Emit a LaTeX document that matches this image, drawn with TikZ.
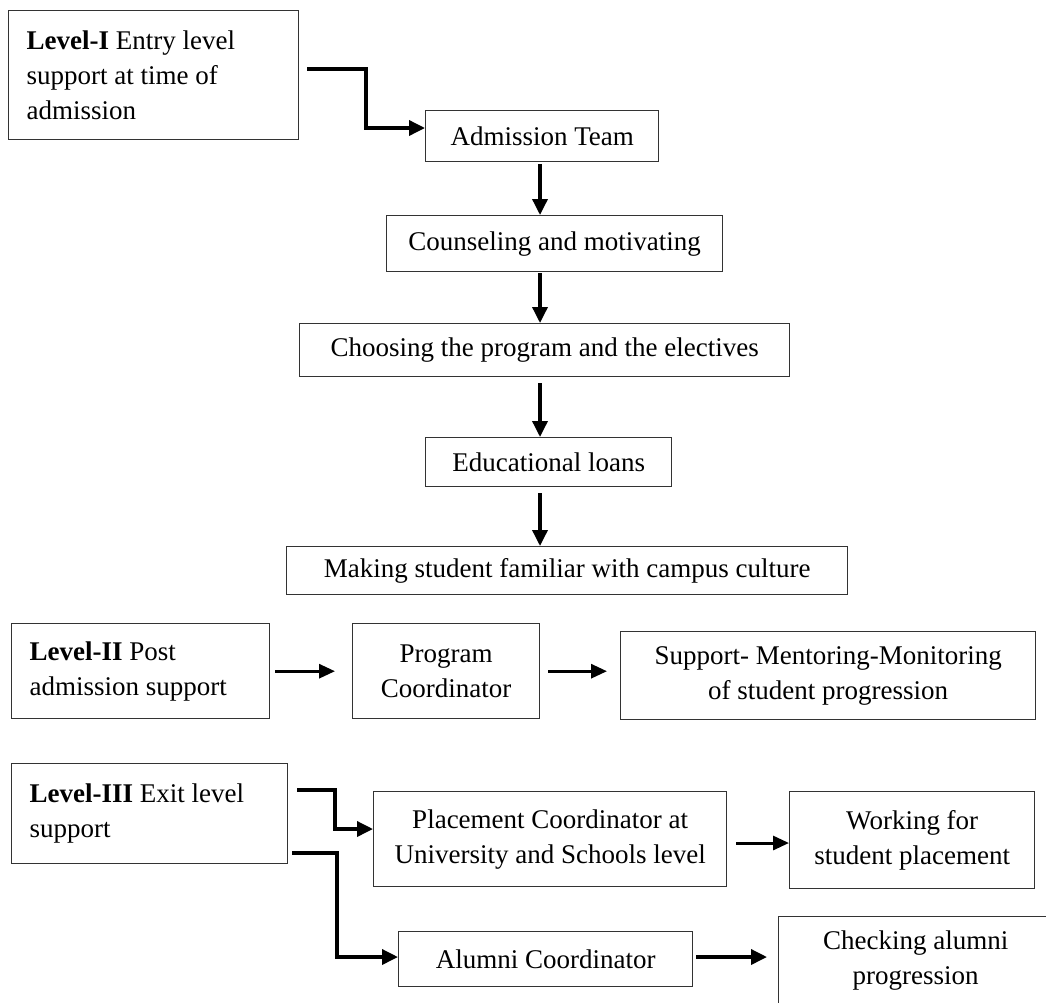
\documentclass[tikz,border=0pt]{standalone}
\usepackage{fontspec}
\setmainfont{Liberation Serif}
\usetikzlibrary{arrows.meta}
\tikzset{
  bx/.style={draw=black!80, line width=1.4pt, inner sep=0pt, align=center,
    anchor=north west, font=\fontsize{27}{35}\selectfont},
  lvbox/.style={bx, align=flush left, inner xsep=18pt},
  arr/.style={line width=3.5pt, -{Triangle[length=16pt,width=15pt]}, line join=miter},
  harr/.style={line width=3pt, -{Triangle[length=16pt,width=14pt]}},
}
\begin{document}
\begin{tikzpicture}[x=1pt,y=-1pt]
\useasboundingbox (0,0) rectangle (1046,1002);
\fill[white] (0,0) rectangle (1046,1002);
\clip (0,0) rectangle (1046,1002);

% Level I
\node[lvbox, minimum width=290pt, minimum height=129pt, text width=254pt] (lvA) at (8,10)
  {\textbf{Level-I} Entry level\\support at time of\\admission};
\node[bx, minimum width=233pt, minimum height=51pt] (adm) at (425,110) {Admission Team};
\node[bx, minimum width=336pt, minimum height=56pt] (cou) at (386,215) {Counseling and motivating};
\node[bx, minimum width=490pt, minimum height=53pt] (cho) at (299,323) {Choosing the program and the electives};
\node[bx, minimum width=246pt, minimum height=49pt] (edu) at (425,437) {Educational loans};
\node[bx, minimum width=561pt, minimum height=48pt] (mak) at (286,546) {Making student familiar with campus culture};

% Level II
\node[lvbox, minimum width=258pt, minimum height=95pt, text width=222pt] (lvB) at (11,623)
  {\textbf{Level-II} Post\\admission support};
\node[bx, minimum width=187pt, minimum height=95pt] (pc) at (352,623) {Program\\Coordinator};
\node[bx, minimum width=415pt, minimum height=88pt] (sup) at (620,631) {Support- Mentoring-Monitoring\\of student progression};

% Level III
\node[lvbox, minimum width=276pt, minimum height=100pt, text width=240pt] (lvC) at (11,763)
  {\textbf{Level-III} Exit level\\support};
\node[bx, minimum width=353pt, minimum height=95pt] (pla) at (373,791) {Placement Coordinator at\\University and Schools level};
\node[bx, minimum width=245pt, minimum height=97pt] (wor) at (789,791) {Working for\\student placement};
\node[bx, minimum width=294pt, minimum height=55pt] (alu) at (398,931) {Alumni Coordinator};
\node[bx, minimum width=274pt, minimum height=88pt] (chk) at (778,916) {Checking alumni\\progression};

% helper coordinates
\coordinate (ax) at (540,0);
\coordinate (yA) at (0,69);
\coordinate (kA) at (366,0);
\coordinate (eA) at (0,128);
\coordinate (yC1) at (0,790);
\coordinate (kC1) at (335,0);
\coordinate (eC1) at (0,829);
\coordinate (yC2) at (0,853);
\coordinate (kC2) at (337,0);
\coordinate (eC2) at (0,957);
\coordinate (yP) at (0,843);

% Level I connectors
\draw[arr, shorten <=8pt] (lvA.east |- yA) -| (kA |- eA) -- (adm.west |- eA);
\draw[arr, shorten <=2pt] (adm.south -| ax) -- (cou.north -| ax);
\draw[arr, shorten <=1pt] (cou.south -| ax) -- (cho.north -| ax);
\draw[arr, shorten <=6pt] (cho.south -| ax) -- (edu.north -| ax);
\draw[arr, shorten <=6pt] (edu.south -| ax) -- (mak.north -| ax);

% Level II connectors
\draw[harr, shorten <=5pt, shorten >=17pt] (lvB.east) -- (lvB.east -| pc.west);
\draw[harr, shorten <=8pt, shorten >=13pt] (pc.east) -- (pc.east -| sup.west);

% Level III connectors
\draw[arr, shorten <=9pt] (lvC.east |- yC1) -| (kC1 |- eC1) -- (pla.west |- eC1);
\draw[arr, shorten <=4pt] (lvC.east |- yC2) -| (kC2 |- eC2) -- (alu.west |- eC2);
\draw[harr, shorten <=9pt] (pla.east |- yP) -- (wor.west |- yP);
\draw[arr, shorten <=3pt, shorten >=11pt] (alu.east |- eC2) -- (chk.west |- eC2);
\end{tikzpicture}
\end{document}
